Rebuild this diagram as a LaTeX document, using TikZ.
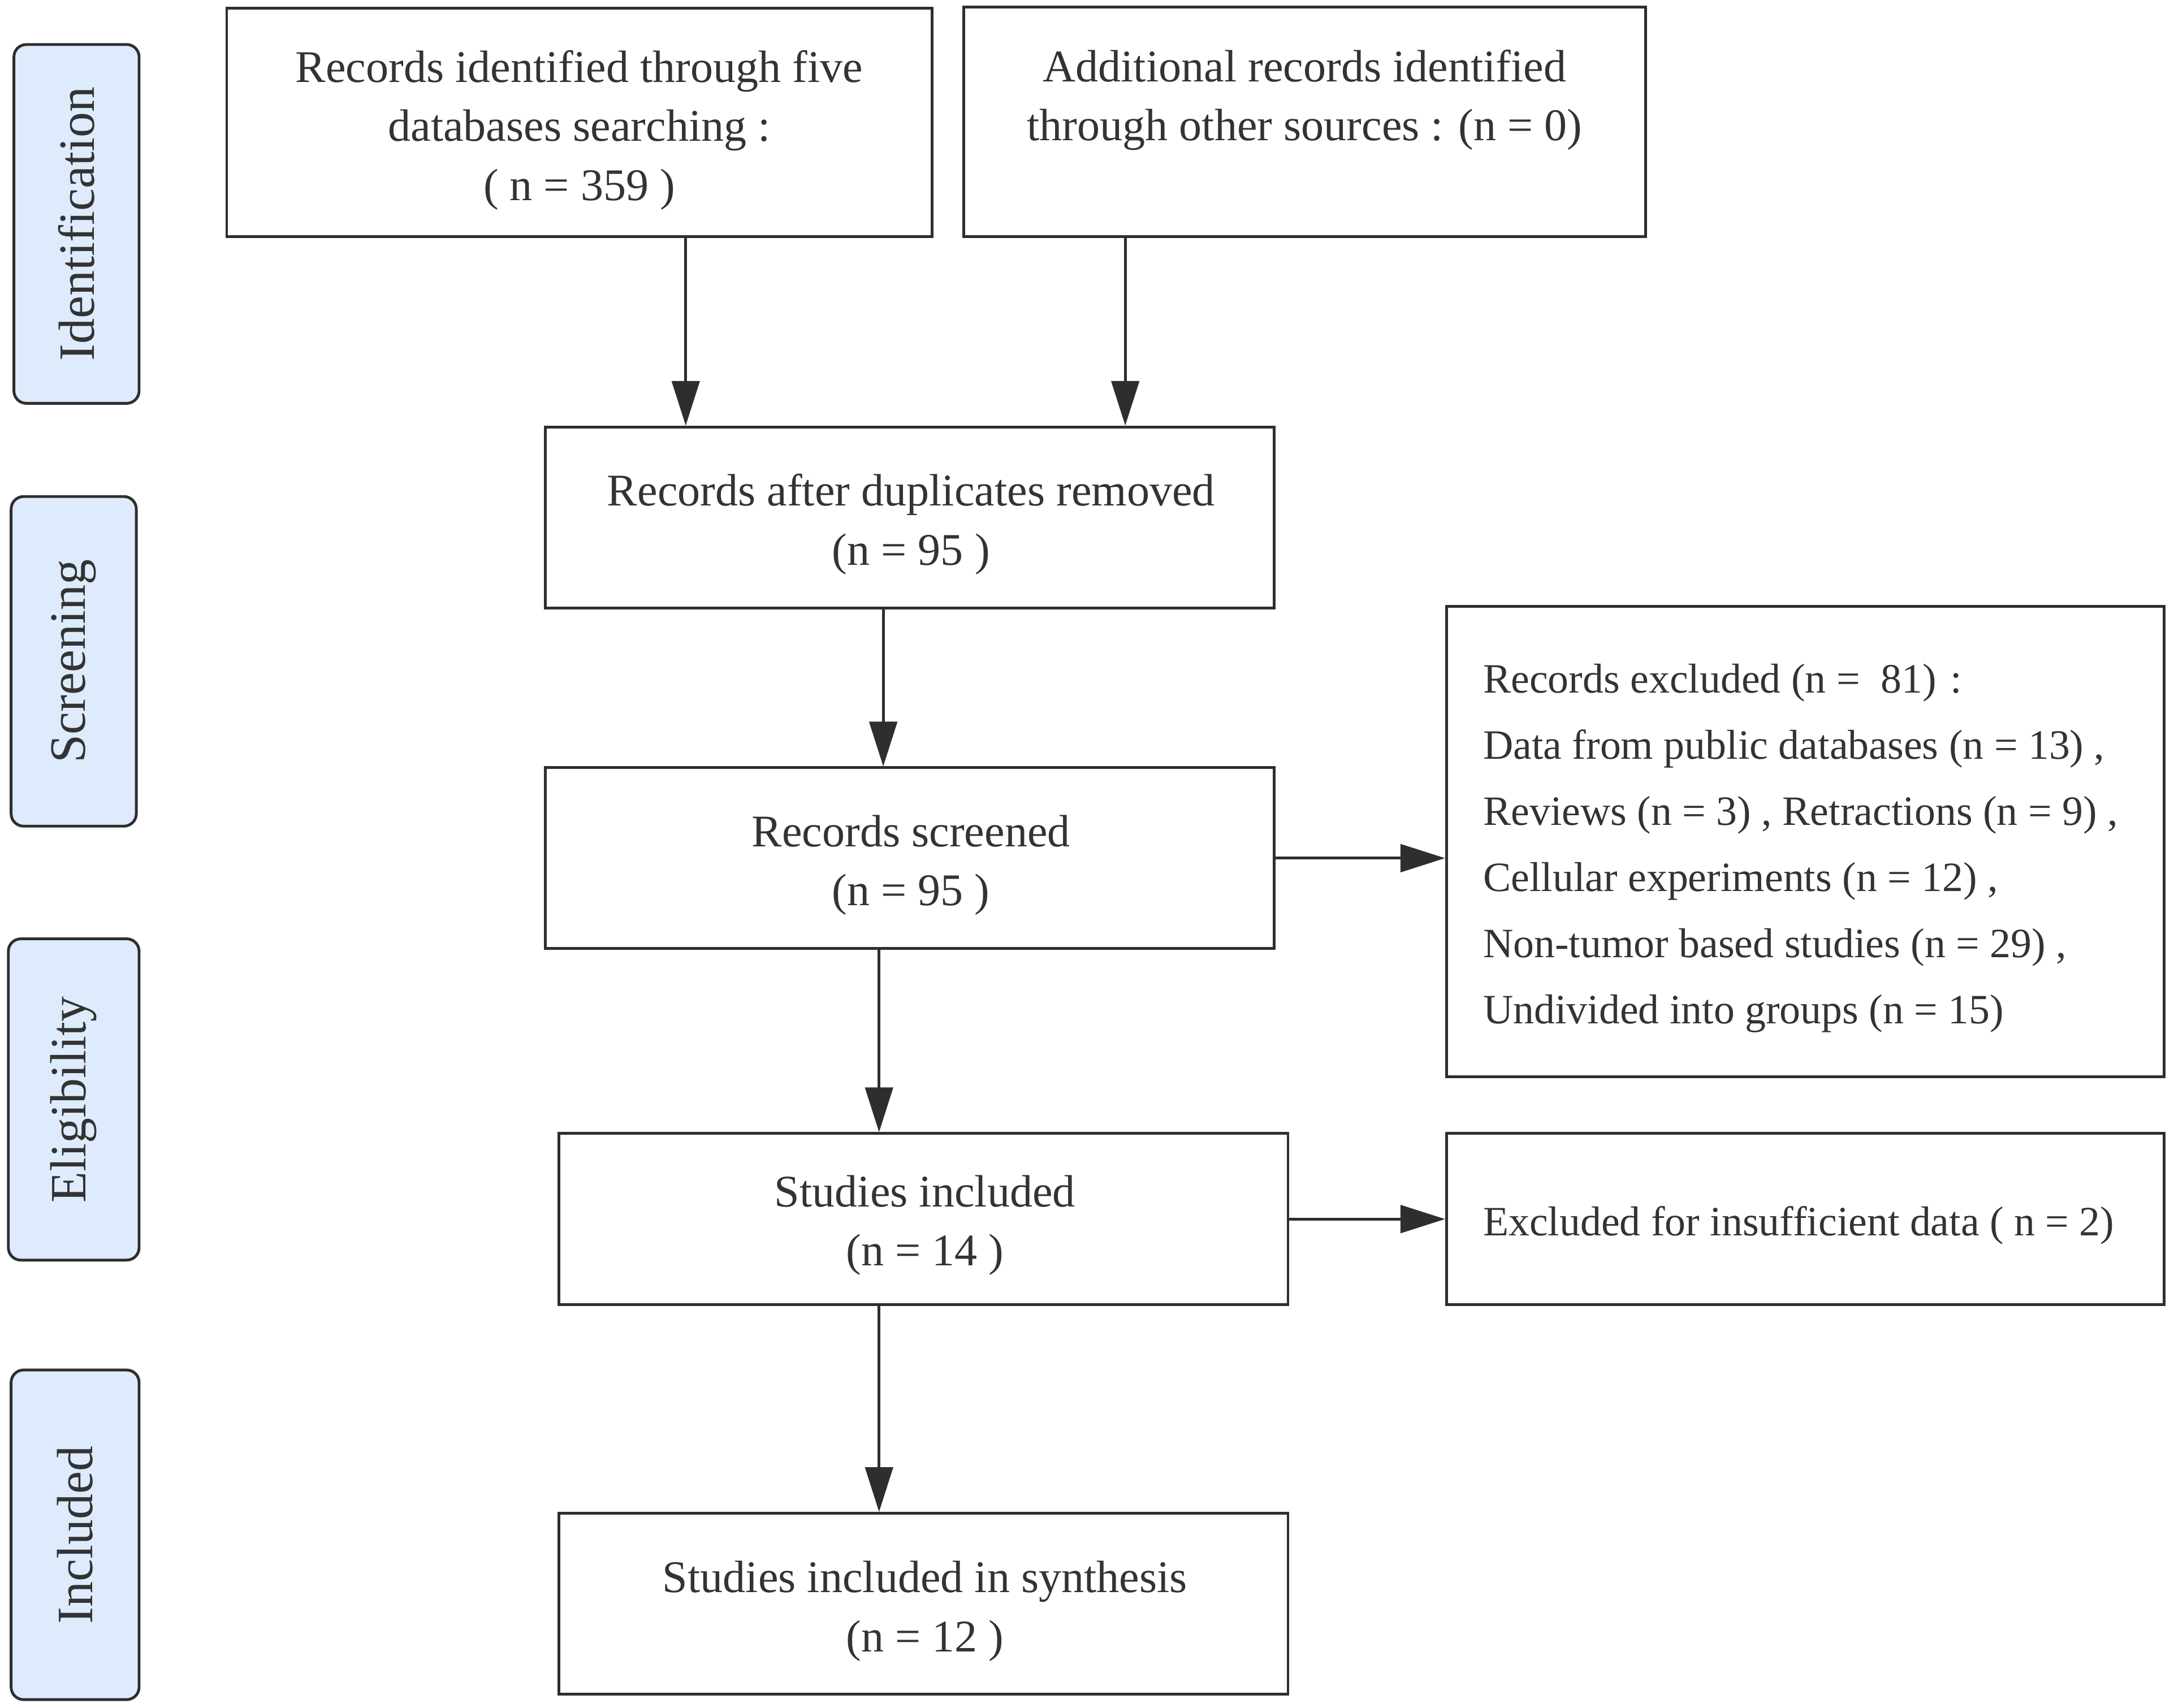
\documentclass[tikz,border=0pt]{standalone}
\usepackage{fontspec}
\setmainfont{Liberation Serif}
\usetikzlibrary{arrows.meta,calc}
\def\pxu{0.246mm}
\definecolor{stagefill}{HTML}{DDEBFC}
\definecolor{linec}{HTML}{2E2E2E}
\definecolor{textc}{HTML}{333333}
\tikzset{
  box/.style={draw=linec, line width=1.4pt, rectangle, inner sep=0pt},
  boxtext/.style={align=center, text=textc, inner sep=0pt,
    font=\fontsize{22.8}{29.75}\selectfont},
  listtext/.style={align=left, text=textc, inner sep=0pt, anchor=west,
    font=\fontsize{21}{33.3}\selectfont},
  stage/.style={draw=linec, line width=1.4pt, fill=stagefill, rounded corners=2.2mm,
    rotate=90, text=textc, font=\fontsize{25.6}{30}\selectfont, inner sep=0pt},
  arr/.style={draw=linec, line width=1.4pt, -{Triangle[length=7.9mm, width=4.9mm]}}
}
\begin{document}
\begin{tikzpicture}[x=0.246mm, y=-0.246mm]
\useasboundingbox (0,0) rectangle (1563,1228);
% stage labels
\node[stage, minimum width=258*\pxu, minimum height=90*\pxu] (s1) at (55,161) {Identification};
\node[stage, minimum width=237*\pxu, minimum height=90*\pxu] (s2) at (53,475.5) {Screening};
\node[stage, minimum width=231*\pxu, minimum height=94*\pxu] (s3) at (53,790.5) {Eligibility};
\node[stage, minimum width=237*\pxu, minimum height=92*\pxu] (s4) at (54,1103.5) {Included};
% boxes
\node[box, minimum width=507*\pxu, minimum height=164*\pxu] (A) at (416.5,88) {};
\node[boxtext] (At) at (416.5,93.5)
  {Records identified through five\\databases searching :\\( n = 359 )};
\node[box, minimum width=490*\pxu, minimum height=165*\pxu] (B) at (938,87.5) {};
\node[boxtext] (Bt) at (938,72)
  {Additional records identified\\through other sources : (n = 0)};
\node[box, minimum width=524*\pxu, minimum height=130*\pxu] (C) at (654,372) {};
\node[boxtext] (Ct) at (655,377) {Records after duplicates removed\\(n = 95 )};
\node[box, minimum width=524*\pxu, minimum height=130*\pxu] (D) at (654,617) {};
\node[boxtext] (Dt) at (655,622) {Records screened\\(n = 95 )};
\node[box, minimum width=516*\pxu, minimum height=338*\pxu] (E) at (1298,605) {};
\node[listtext] (Et) at (1066,610)
  {Records excluded (n = \ 81)\,\,:\\
   Data from public databases (n = 13) ,\\
   Reviews (n = 3) , Retractions (n = 9) ,\\
   Cellular experiments (n = 12) ,\\
   Non-tumor based studies (n = 29) ,\\
   Undivided into groups (n = 15)};
\node[box, minimum width=524*\pxu, minimum height=123*\pxu] (F) at (664,876.5) {};
\node[boxtext] (Ft) at (665,881) {Studies included\\(n = 14 )};
\node[box, minimum width=516*\pxu, minimum height=123*\pxu] (G) at (1298,876.5) {};
\node[listtext] (Gt) at (1066,881) {Excluded for insufficient data ( n = 2)};
\node[box, minimum width=524*\pxu, minimum height=130*\pxu] (H) at (664,1153) {};
\node[boxtext] (Ht) at (665,1158.5) {Studies included in synthesis\\(n = 12 )};
% connectors
\coordinate (a1) at ($(A.south west)+(331,0)$);
\coordinate (b1) at ($(B.south west)+(117,0)$);
\coordinate (c1) at ($(C.south west)+(244,0)$);
\coordinate (d1) at ($(D.south west)+(241,0)$);
\coordinate (f1) at ($(F.south west)+(231,0)$);
\draw[arr] (a1) -- (a1 |- C.north);
\draw[arr] (b1) -- (b1 |- C.north);
\draw[arr] (c1) -- (c1 |- D.north);
\draw[arr] (D.east) -- (D.east -| E.west);
\draw[arr] (d1) -- (d1 |- F.north);
\draw[arr] (F.east) -- (F.east -| G.west);
\draw[arr] (f1) -- (f1 |- H.north);
\end{tikzpicture}
\end{document}
